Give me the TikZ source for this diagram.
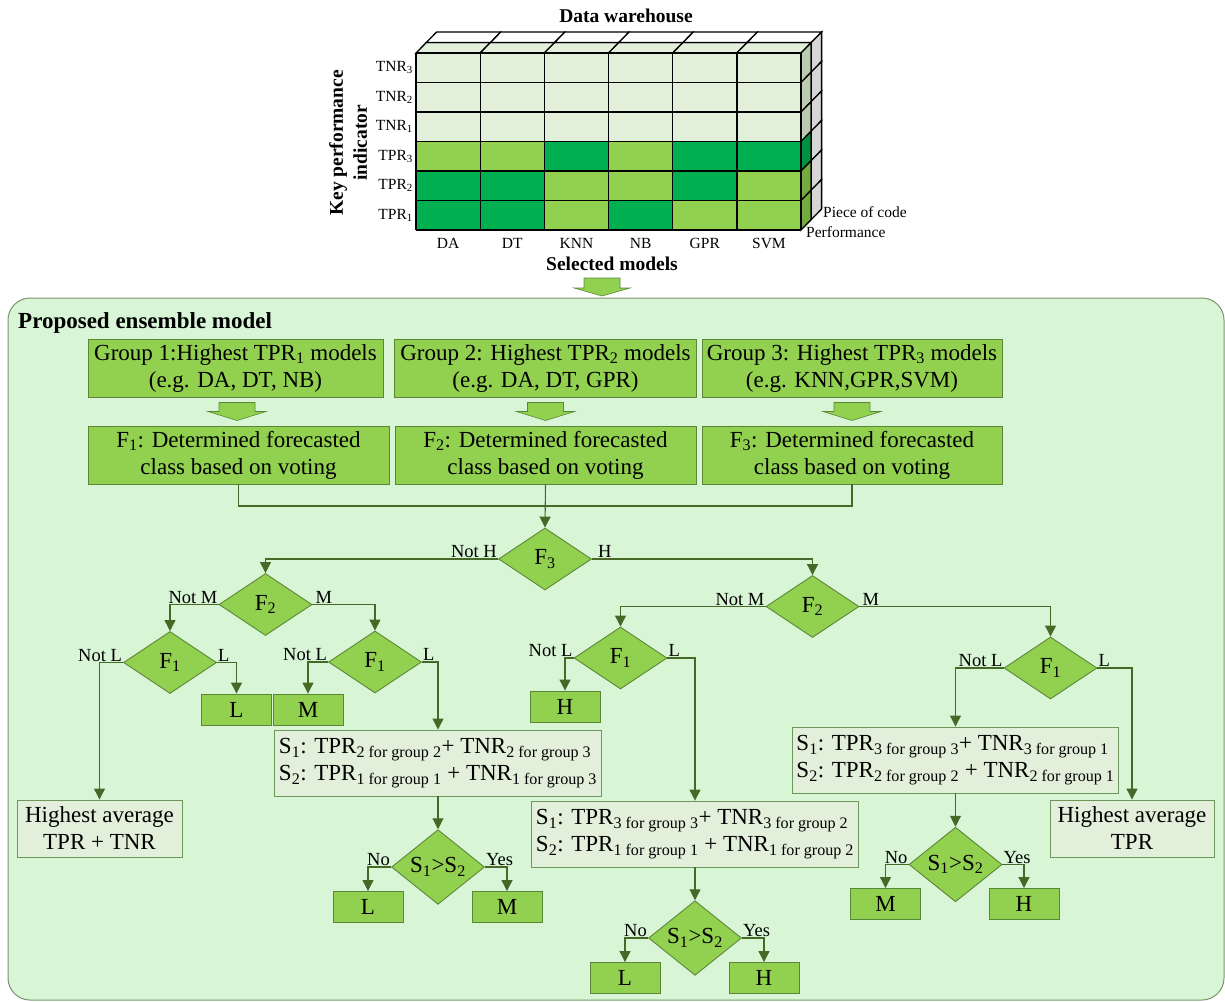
\documentclass[tikz,border=0pt]{standalone}
\usepackage{fontspec}
\setmainfont{Liberation Serif}
\usetikzlibrary{shapes.geometric,arrows.meta,calc}
\definecolor{lg}{RGB}{146,208,80}
\definecolor{dg}{RGB}{0,176,80}
\definecolor{pale}{RGB}{226,239,218}
\definecolor{sideT}{RGB}{188,203,176}
\definecolor{sideD}{RGB}{0,144,62}
\definecolor{sideL}{RGB}{116,170,62}
\definecolor{sideG}{RGB}{214,214,214}
\definecolor{contfill}{RGB}{216,245,214}
\definecolor{contdraw}{RGB}{120,150,105}
\definecolor{boxdraw}{RGB}{90,135,55}
\definecolor{linec}{RGB}{70,105,40}
\definecolor{sdraw}{RGB}{110,150,90}
\newcommand\fmain{\fontsize{23}{27}\selectfont}
\newcommand\flab{\fontsize{18.5}{20}\selectfont}
\newcommand\fcube{\fontsize{15.5}{17}\selectfont}
\newcommand\fttl{\fontsize{19.5}{24}\selectfont\bfseries}
\begin{document}
\begin{tikzpicture}[x=1pt,y=-1pt,
  gbox/.style={draw=boxdraw, fill=lg, line width=0.9pt, inner sep=0pt, align=center, font=\fmain},
  sbox/.style={draw=sdraw, fill=pale, line width=0.9pt, inner sep=0pt, font=\fmain},
  dia/.style={diamond, draw=boxdraw, fill=lg, line width=0.9pt, inner sep=0pt, minimum width=93pt, minimum height=62pt, font=\fmain},
  small/.style={gbox, minimum width=70pt, minimum height=31pt},
  plain/.style={draw=linec, line width=1.1pt},
  conn/.style={draw=linec, line width=1.1pt, -{Triangle[width=11pt,length=11pt]}},
  lab/.style={font=\flab, inner sep=1pt},
  barrow/.style={fill=lg, draw=boxdraw, line width=0.6pt}]
\useasboundingbox (0,0) rectangle (1225,1001);
% ---------------- cube ----------------
\begin{scope}[line width=1.3pt]
\foreach \i/\a/\b/\c in {0/lg/dg/dg,1/lg/dg/dg,2/dg/lg/lg,3/lg/lg/dg,4/dg/dg/lg,5/dg/lg/lg}{
  \fill[pale] (416+\i*64.17,53) rectangle ++(64.17,88.5);
  \fill[\a] (416+\i*64.17,141.5) rectangle ++(64.17,29.5);
  \fill[\b] (416+\i*64.17,171) rectangle ++(64.17,29.5);
  \fill[\c] (416+\i*64.17,200.5) rectangle ++(64.17,29.5);
  \filldraw[fill=pale] (416+\i*64.17,53) -- ++(64.17,0) -- ++(10.3,-10.5) -- ++(-64.17,0) -- cycle;
  \filldraw[fill=white] (426.3+\i*64.17,42.5) -- ++(64.17,0) -- ++(10.3,-10.5) -- ++(-64.17,0) -- cycle;
}
\foreach \j/\s in {0/sideT,1/sideT,2/sideT,3/sideD,4/sideL,5/sideL}{
  \filldraw[fill=\s] (801,53+\j*29.5) -- ++(10.3,-10.5) -- ++(0,29.5) -- ++(-10.3,10.5) -- cycle;
  \filldraw[fill=sideG] (811.3,42.5+\j*29.5) -- ++(10.3,-10.5) -- ++(0,29.5) -- ++(-10.3,10.5) -- cycle;
}
\foreach \i in {0,...,6} \draw (416+\i*64.17,53) -- ++(0,177);
\foreach \j in {0,...,6} \draw (416,53+\j*29.5) -- ++(385,0);
\end{scope}
\foreach \j/\t/\n in {0/TNR/3,1/TNR/2,2/TNR/1,3/TPR/3,4/TPR/2,5/TPR/1}
  \node[anchor=east, font=\fcube, inner sep=0pt] (rl\j) at (413,67.75+\j*29.5) {\t\textsubscript{\n}};
\foreach \i/\t in {0/DA,1/DT,2/KNN,3/NB,4/GPR,5/SVM}
  \node[font=\fcube, inner sep=0pt] (cl\i) at (448.1+\i*64.17,243) {\t};
\node[font=\fttl] (dw) at (626,16) {Data warehouse};
\node[font=\fttl] (sm) at (612,264) {Selected models};
\node[font=\fttl, rotate=90, align=center] (kpi) at (348,143) {Key performance\\indicator};
\node[font=\fcube, anchor=west, inner sep=0pt] (pc) at (823,212) {Piece of code};
\node[font=\fcube, anchor=west, inner sep=0pt] (pf) at (806,232) {Performance};
\coordinate (ta) at (602,287);
\draw[barrow, shift={(ta)}] (-18,-9) -- (18,-9) -- (18,1) -- (28,1) -- (0,9) -- (-28,1) -- (-18,1) -- cycle;
% ---------------- container ----------------
\draw[draw=contdraw, fill=contfill, line width=1pt, rounded corners=22pt] (8,298) rectangle (1224,1000);
\node[font=\fontsize{23}{27}\selectfont\bfseries, anchor=west, inner sep=0pt] (ttl) at (18,323) {Proposed ensemble model};
% groups
\node[gbox, minimum width=295pt, minimum height=58pt] (g1) at (235.5,368) {Group 1:Highest TPR\textsubscript{1} models\\(e.g. DA, DT, NB)};
\node[gbox, minimum width=302pt, minimum height=58pt] (g2) at (545.5,368) {Group 2: Highest TPR\textsubscript{2} models\\(e.g. DA, DT, GPR)};
\node[gbox, minimum width=300pt, minimum height=58pt] (g3) at (852,368) {Group 3: Highest TPR\textsubscript{3} models\\(e.g. KNN,GPR,SVM)};
\node[gbox, minimum width=301pt, minimum height=58pt] (f1) at (238.5,455) {F\textsubscript{1}: Determined forecasted\\class based on voting};
\node[gbox, minimum width=301pt, minimum height=58pt] (f2) at (545.5,455) {F\textsubscript{2}: Determined forecasted\\class based on voting};
\node[gbox, minimum width=300pt, minimum height=58pt] (f3) at (852,455) {F\textsubscript{3}: Determined forecasted\\class based on voting};
\foreach \n in {1,2,3}{
  \draw[barrow, shift={($(g\n.south)!0.5!(f\n.north)$)}] (-18,-9) -- (18,-9) -- (18,0) -- (29,0) -- (0,9) -- (-29,0) -- (-18,0) -- cycle;
}
% decisions
\node[dia] (d3) at (545,559) {F\textsubscript{3}};
\node[dia] (d2l) at (265.5,604.5) {F\textsubscript{2}};
\node[dia] (d2r) at (812.5,606.5) {F\textsubscript{2}};
\node[dia] (d1a) at (170,662.5) {F\textsubscript{1}};
\node[dia] (d1b) at (375,662) {F\textsubscript{1}};
\node[dia] (d1c) at (620.5,658) {F\textsubscript{1}};
\node[dia] (d1d) at (1050.5,668) {F\textsubscript{1}};
% outcome boxes
\node[small] (bL1) at (236.5,709.5) {L};
\node[small] (bM1) at (308,709.5) {M};
\node[small] (bH1) at (565,706.5) {H};
\node[sbox, align=center, minimum width=165pt, minimum height=57pt] (hA) at (99.5,828.5) {Highest average\\TPR + TNR};
\node[sbox, align=center, minimum width=164pt, minimum height=57pt] (hB) at (1132,828.5) {Highest average\\TPR};
\node[sbox, align=left, minimum width=326.5pt, minimum height=66pt] (s1) at (438,763) {S\textsubscript{1}: TPR\textsubscript{2  for group 2}+ TNR\textsubscript{2 for group 3}\\S\textsubscript{2}: TPR\textsubscript{1  for group 1} + TNR\textsubscript{1  for group 3}};
\node[sbox, align=left, minimum width=326.5pt, minimum height=66pt] (s2) at (695,834) {S\textsubscript{1}: TPR\textsubscript{3  for group 3}+ TNR\textsubscript{3 for group 2}\\S\textsubscript{2}: TPR\textsubscript{1  for group 1} + TNR\textsubscript{1  for group 2}};
\node[sbox, align=left, minimum width=326pt, minimum height=66pt] (s3) at (955.5,760) {S\textsubscript{1}: TPR\textsubscript{3  for group 3}+ TNR\textsubscript{3 for group 1}\\S\textsubscript{2}: TPR\textsubscript{2  for group 2} + TNR\textsubscript{2  for group 1}};
\node[dia] (sa) at (438,867) {S\textsubscript{1}>S\textsubscript{2}};
\node[dia] (sb) at (695,938) {S\textsubscript{1}>S\textsubscript{2}};
\node[dia] (sc) at (955.5,864.5) {S\textsubscript{1}>S\textsubscript{2}};
\node[small] (bL2) at (368,907) {L};
\node[small] (bM2) at (507,907) {M};
\node[small] (bL3) at (625,978) {L};
\node[small] (bH3) at (764,978) {H};
\node[small] (bM4) at (885.5,904) {M};
\node[small] (bH4) at (1024,904) {H};
% connectors
\coordinate (jn) at (545.5,506);
\draw[plain] (f1.south) |- (jn);
\draw[plain] (f3.south) |- (jn);
\draw[conn] (f2.south) -- (d3.north);
\draw[conn] (d3.west) -| (d2l.north);
\draw[conn] (d3.east) -| (d2r.north);
\draw[conn] (d2l.west) -| (d1a.north);
\draw[conn] (d2l.east) -| (d1b.north);
\draw[conn] (d1a.west) -| (hA.north);
\draw[conn] (d1a.east) -| (bL1.north);
\draw[conn] (d1b.west) -| (bM1.north);
\draw[conn] (d1b.east) -| (s1.north);
\draw[conn] (s1.south) -- (sa.north);
\draw[conn] (sa.west) -| (bL2.north);
\draw[conn] (sa.east) -| (bM2.north);
\draw[conn] (d2r.west) -| (d1c.north);
\draw[conn] (d2r.east) -| (d1d.north);
\draw[conn] (d1c.west) -| (bH1.north);
\draw[conn] (d1c.east) -| (s2.north);
\draw[conn] (s2.south) -- (sb.north);
\draw[conn] (sb.west) -| (bL3.north);
\draw[conn] (sb.east) -| (bH3.north);
\draw[conn] (d1d.west) -| (s3.north);
\draw[conn] (d1d.east) -| (hB.north);
\draw[conn] (s3.south) -- (sc.north);
\draw[conn] (sc.west) -| (bM4.north);
\draw[conn] (sc.east) -| (bH4.north);
% labels
\node[lab, anchor=south east] (l1) at (d3.west) {Not H};
\node[lab, anchor=south west] (l2) at ([xshift=5pt]d3.east) {H};
\node[lab, anchor=south east] (l3) at (d2l.west) {Not M};
\node[lab, anchor=south west] (l4) at ([xshift=2pt]d2l.east) {M};
\node[lab, anchor=south east] (l5) at (d2r.west) {Not M};
\node[lab, anchor=south west] (l6) at ([xshift=2pt]d2r.east) {M};
\node[lab, anchor=south east] (l7) at (d1a.west) {Not L};
\node[lab, anchor=south west] (l8) at (d1a.east) {L};
\node[lab, anchor=south east] (l9) at (d1b.west) {Not L};
\node[lab, anchor=south west] (l10) at (d1b.east) {L};
\node[lab, anchor=south east] (l11) at (d1c.west) {Not L};
\node[lab, anchor=south west] (l12) at (d1c.east) {L};
\node[lab, anchor=south east] (l13) at (d1d.west) {Not L};
\node[lab, anchor=south west] (l14) at (d1d.east) {L};
\node[lab, anchor=south east] (l15) at (sa.west) {No};
\node[lab, anchor=south west] (l16) at (sa.east) {Yes};
\node[lab, anchor=south east] (l17) at (sb.west) {No};
\node[lab, anchor=south west] (l18) at (sb.east) {Yes};
\node[lab, anchor=south east] (l19) at (sc.west) {No};
\node[lab, anchor=south west] (l20) at (sc.east) {Yes};
\end{tikzpicture}
\end{document}
